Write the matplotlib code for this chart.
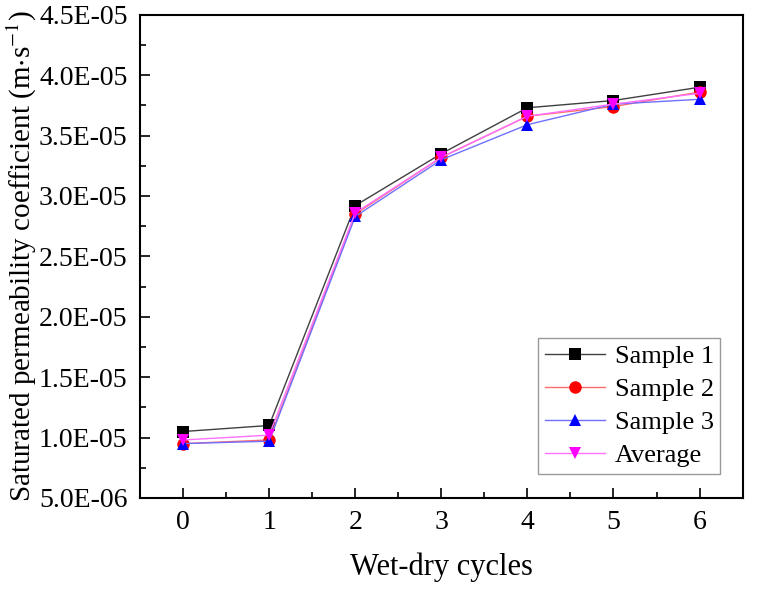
import numpy as np
import matplotlib.pyplot as plt
from matplotlib.ticker import MultipleLocator, FuncFormatter

# Wet-dry cycles and saturated permeability coefficient (m/s)
cycles = [0, 1, 2, 3, 4, 5, 6]
sample1 = [1.05e-5, 1.10e-5, 2.92e-5, 3.35e-5, 3.73e-5, 3.79e-5, 3.90e-5]
sample2 = [0.95e-5, 0.98e-5, 2.85e-5, 3.32e-5, 3.66e-5, 3.74e-5, 3.86e-5]
sample3 = [0.95e-5, 0.97e-5, 2.83e-5, 3.30e-5, 3.59e-5, 3.76e-5, 3.80e-5]
average = [0.98e-5, 1.02e-5, 2.86e-5, 3.32e-5, 3.66e-5, 3.76e-5, 3.85e-5]

plt.rcParams['font.family'] = ['Liberation Serif', 'DejaVu Serif']
plt.rcParams['mathtext.fontset'] = 'stix'

fig = plt.figure(figsize=(7.57, 5.90), dpi=100)
ax = fig.add_axes([0.185, 0.156, 0.796, 0.819])

# (values, label, marker colour, line colour, marker)
series = [
    (sample1, 'Sample 1', 'black', '#404040', 's'),
    (sample2, 'Sample 2', 'red', '#ff6a6a', 'o'),
    (sample3, 'Sample 3', 'blue', '#7070ff', '^'),
    (average, 'Average', 'magenta', '#ff70ff', 'v'),
]
for vals, name, mcol, lcol, marker in series:
    ax.plot(cycles, vals, color=lcol, marker=marker, markersize=9, lw=1.0,
            markerfacecolor=mcol, markeredgewidth=0, label=name)

ax.set_xlim(-0.5, 6.5)
ax.set_ylim(5e-6, 4.5e-5)
ax.xaxis.set_major_locator(MultipleLocator(1))
ax.xaxis.set_minor_locator(MultipleLocator(0.5))
ax.yaxis.set_major_locator(MultipleLocator(5e-6))
ax.yaxis.set_minor_locator(MultipleLocator(2.5e-6))

def sci_fmt(v, pos):
    m, e = f"{v:.1E}".split("E")
    return f"{m}E{int(e):+03d}".replace("+", "")

ax.yaxis.set_major_formatter(FuncFormatter(sci_fmt))
ax.tick_params(which='both', direction='in', labelsize=20, width=1.2)
ax.tick_params(which='major', length=7)
ax.tick_params(which='minor', length=4)
ax.tick_params(axis='x', pad=9)
ax.tick_params(axis='y', pad=9)
for s in ax.spines.values():
    s.set_linewidth(1.5)

ax.set_xlabel('Wet-dry cycles', fontsize=22, labelpad=12)
ax.set_ylabel(r'Saturated permeability coefficient (m$\cdot$s$^{-1}$)', fontsize=21, labelpad=0)

leg = ax.legend(loc='lower right', bbox_to_anchor=(0.963, 0.05), fontsize=19,
                frameon=True, fancybox=False, edgecolor='gray', handlelength=2.3,
                labelspacing=0.36, borderpad=0.25, handletextpad=0.35, borderaxespad=0)
leg.get_frame().set_linewidth(1.0)

fig.savefig('out.png', dpi=100)
